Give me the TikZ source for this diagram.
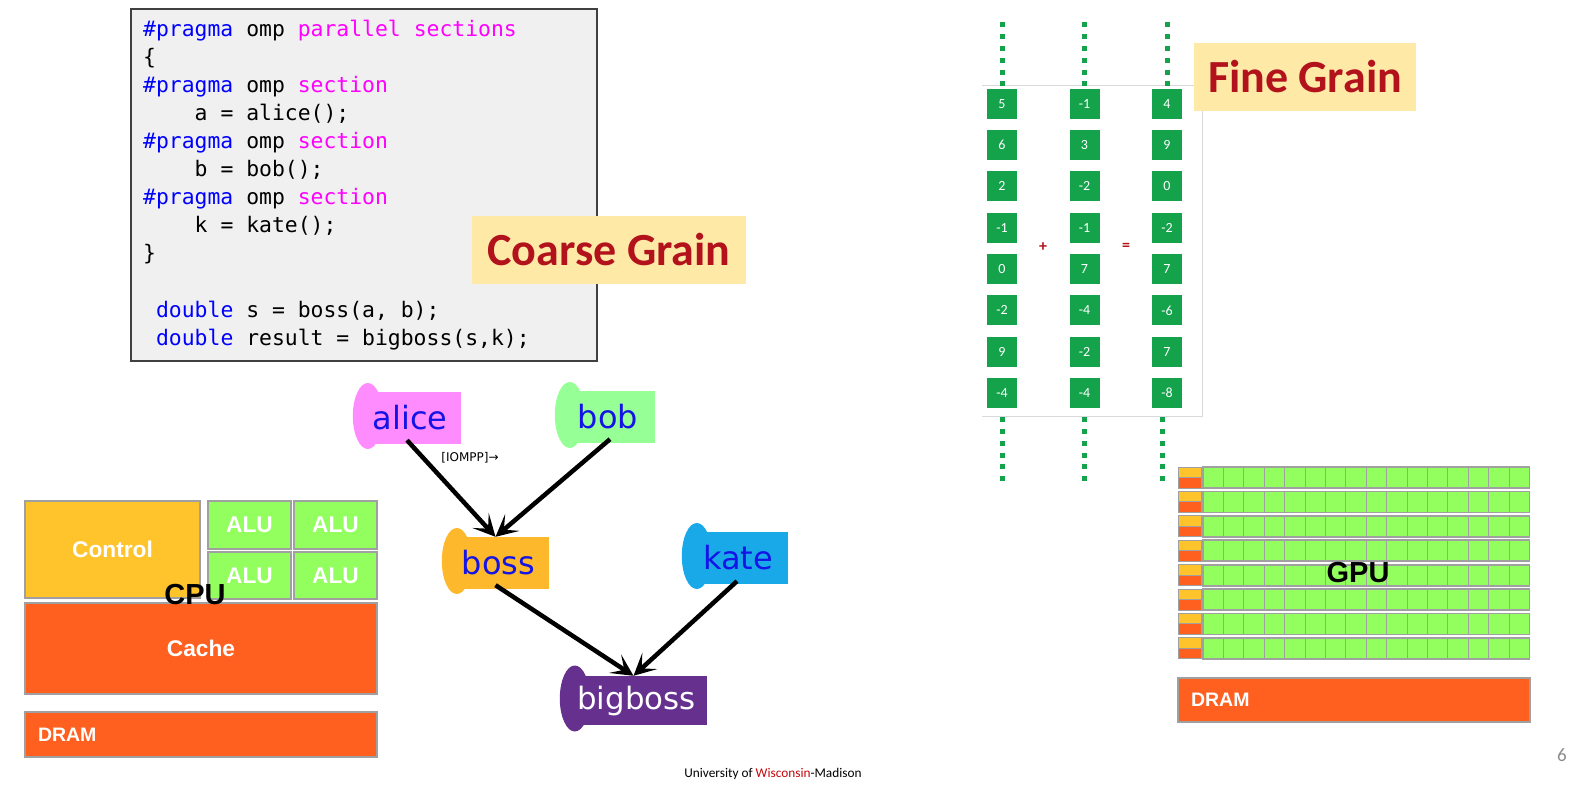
\documentclass[tikz,border=0pt]{standalone}
\usepackage{fontspec}
\setmainfont{Carlito}
\newfontfamily\codefont{DejaVu Sans Mono}
\newfontfamily\taskfont{DejaVu Sans}
\newfontfamily\boxfont{Liberation Sans}
\usepackage{tikz}
\usetikzlibrary{calc,arrows.meta,backgrounds,positioning}
\usepackage{xcolor}

\definecolor{codebg}{HTML}{F0F0F0}
\definecolor{codeborder}{HTML}{404040}
\definecolor{kwblue}{HTML}{0000FF}
\definecolor{kwpink}{HTML}{FF00FF}
\definecolor{grainbg}{HTML}{FFE9A6}
\definecolor{grainred}{HTML}{B2121B}
\definecolor{wiscred}{HTML}{C5050C}
\definecolor{taskblue}{HTML}{1414E6}
\definecolor{alicepink}{HTML}{FF8CFF}
\definecolor{bobgreen}{HTML}{96FF96}
\definecolor{bossorange}{HTML}{FDB92B}
\definecolor{kateblue}{HTML}{1AA9E8}
\definecolor{bigpurple}{HTML}{66308F}
\definecolor{ctrlyellow}{HTML}{FFC42B}
\definecolor{alugreen}{HTML}{92FF5F}
\definecolor{cacheorange}{HTML}{FF5F1F}
\definecolor{unitgray}{HTML}{A0A0A0}
\definecolor{vecgreen}{HTML}{14A34B}
\definecolor{vecgray}{HTML}{D9D9D9}
\definecolor{pagegray}{HTML}{8C8C8C}

\newcommand{\ompkw}[1]{\textcolor{kwblue}{#1}}
\newcommand{\ompsec}[1]{\textcolor{kwpink}{#1}}

\begin{document}
\begin{tikzpicture}[x=1pt,y=-1pt,
    codeline/.style={anchor=base west,inner sep=0,font=\codefont\fontsize{21.4}{28}\selectfont},
    grain/.style={fill=grainbg,text=grainred,inner sep=0,font=\bfseries\fontsize{46}{46}\selectfont},
    task/.style={inner sep=0,text=taskblue,font=\taskfont\fontsize{32}{32}\selectfont,
      execute at begin node={\hspace*{6pt}}},
    unit/.style={draw=unitgray,line width=1.5pt,text=white,inner sep=0,font=\boxfont\bfseries\fontsize{22.7}{24}\selectfont},
    dram/.style={unit,fill=cacheorange,text width=326pt,inner xsep=13pt,align=left,font=\boxfont\bfseries\fontsize{19.5}{20}\selectfont},
    chip/.style={font=\boxfont\bfseries\fontsize{29}{29}\selectfont},
    vec/.style={fill=vecgreen,text=white,minimum size=30pt,inner sep=0,font=\fontsize{14}{14}\selectfont},
    sign/.style={text=grainred,font=\bfseries\fontsize{16}{16}\selectfont},
    dotline/.style={vecgreen,line width=5pt,dash pattern=on 5pt off 6.8pt},
    cell/.style={draw=unitgray,fill=alugreen,line width=1pt},
    link/.style={-{Stealth[length=22pt,width=22pt,inset=11pt]},line width=4.5pt}
  ]
  \useasboundingbox (0,0) rectangle (1579,786);

  % code
  \node[draw=codeborder,fill=codebg,line width=1.5pt,minimum width=466pt,minimum height=352pt] (codebox) at (364,185) {};
  \foreach \y/\txt in {
      0/{\ompkw{\#pragma} omp \ompsec{parallel sections}},
      1/{\{},
      2/{\ompkw{\#pragma} omp \ompsec{section}},
      3/{\phantom{xxxx}a = alice();},
      4/{\ompkw{\#pragma} omp \ompsec{section}},
      5/{\phantom{xxxx}b = bob();},
      6/{\ompkw{\#pragma} omp \ompsec{section}},
      7/{\phantom{xxxx}k = kate();},
      8/{\}},
      10/{\phantom{x}\ompkw{double} s = boss(a, b);},
      11/{\phantom{x}\ompkw{double} result = bigboss(s,k);}}
    \node[codeline] (line\y) at (143,37+28*\y) {\txt};
  \node[grain,minimum width=274pt,minimum height=68pt] (coarse) at (609,250) {Coarse Grain};

  % task graph
  \node[task,minimum width=108pt,minimum height=52pt] (alice) at (407,418) {alice};
  \node[task,minimum width=100pt,minimum height=52pt] (bob) at (605,417) {bob};
  \node[task,minimum width=107pt,minimum height=52pt] (boss) at (495.5,563) {boss};
  \node[task,minimum width=106pt,minimum height=52pt] (kate) at (735,558) {kate};
  \node[task,text=white,font=\taskfont\fontsize{30.8}{31}\selectfont,minimum width=147pt,minimum height=49pt] (bigboss) at (633.5,700.5) {bigboss};
  \node[font=\taskfont\fontsize{12}{12}\selectfont] (iompp) at (470,458) {[IOMPP]→};

  \draw[link] ([yshift=4pt]alice.south) -- (boss.north);
  \draw[link] ([xshift=5pt,yshift=4pt]bob.south) -- (boss.north);
  \draw[link] ([yshift=4pt]boss.south) -- (bigboss.north);
  \draw[link] ([xshift=2pt,yshift=3pt]kate.south) -- (bigboss.north);

  \begin{pgfonlayer}{background}
    \foreach \n/\c in {alice/alicepink,bob/bobgreen,boss/bossorange,kate/kateblue,bigboss/bigpurple}{
      \fill[\c] ([xshift=15pt]\n.north west) rectangle (\n.south east);
      \fill[\c] ([xshift=15pt,yshift=2pt]\n.west) ellipse [x radius=15pt,y radius=33pt];
    }
  \end{pgfonlayer}

  % CPU
  \node[unit,fill=ctrlyellow,minimum width=175pt,minimum height=97pt] (control) at (112.5,549.5) {Control};
  \node[unit,fill=alugreen,minimum width=83pt,minimum height=48pt] (alu1) at (249.5,525) {ALU};
  \node[unit,fill=alugreen,minimum width=83pt,minimum height=48pt] (alu2) at (335.5,525) {ALU};
  \node[unit,fill=alugreen,minimum width=83pt,minimum height=47pt] (alu3) at (249.5,575.5) {ALU};
  \node[unit,fill=alugreen,minimum width=83pt,minimum height=47pt] (alu4) at (335.5,575.5) {ALU};
  \node[unit,fill=cacheorange,minimum width=352pt,minimum height=91pt] (cache) at (201,648.5) {Cache};
  \node[dram,minimum height=45pt] (cpudram) at (201,734.5) {DRAM};
  \node[chip] (cpu) at (195,595) {CPU};

  % vector add
  \draw[vecgray,line width=1pt] (982,86) -| (1202,416) -- (982,416);
  \foreach \v [count=\i] in {5,6,2,-1,0,-2,9,-4}
    \node[vec] (a\i) at (1002,103.7+41.33*\i-41.33) {\v};
  \foreach \v [count=\i] in {-1,3,-2,-1,7,-4,-2,-4}
    \node[vec] (b\i) at (1084.5,103.7+41.33*\i-41.33) {\v};
  \foreach \v [count=\i] in {4,9,0,-2,7,-6,7,-8}
    \node[vec] (c\i) at (1167,103.7+41.33*\i-41.33) {\v};
  \node[sign] (plus) at (1043,247) {+};
  \node[sign] (equals) at (1126,247) {=};
  \foreach \col in {a,b,c}
    \draw[dotline] ([yshift=66pt]\col1.north) -- ([yshift=2pt]\col1.north);
  \draw[dotline] ([yshift=-9pt]a8.south) -- ([yshift=-73pt]a8.south);
  \draw[dotline] ([yshift=-9pt]b8.south) -- ([yshift=-73pt]b8.south);
  \draw[dotline] ([xshift=-5pt,yshift=-9pt]c8.south) -- ([xshift=-5pt,yshift=-73pt]c8.south);
  \node[grain,minimum width=222pt,minimum height=68pt] (fine) at (1305,77) {Fine Grain};

  % GPU
  \foreach \r in {0,...,7}{
    \foreach \c in {0,...,15}
      \draw[cell] (1203+20.4*\c,467+24.4*\r) rectangle ++(20.4,21);
    \draw[unitgray,line width=1.8pt] (1203,467+24.4*\r) rectangle ++(326.4,21);
    \draw[unitgray,line width=1pt,fill=ctrlyellow] (1178,467+24.4*\r) rectangle ++(23,10.5);
    \draw[unitgray,line width=1pt,fill=cacheorange] (1178,477.5+24.4*\r) rectangle ++(23,10.5);
  }
  \node[chip] (gpu) at (1358,573) {GPU};
  \node[dram,minimum height=44pt] (gpudram) at (1354,700) {DRAM};

  \node[font=\fontsize{13.3}{14}\selectfont] (footer) at (773,774) {University of \textcolor{wiscred}{Wisconsin}-Madison};
  \node[text=pagegray,font=\fontsize{19}{19}\selectfont] (page) at (1562,755) {6};
\end{tikzpicture}
\end{document}
